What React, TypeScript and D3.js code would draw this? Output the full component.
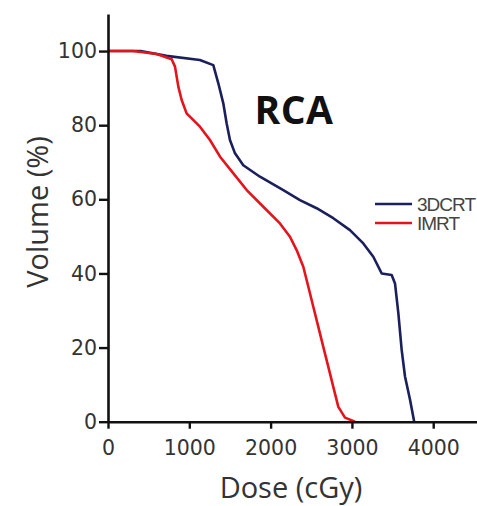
import React, { useEffect, useRef } from 'react';
import * as d3 from 'd3';

// dose (cGy) / volume (%)
const crtDose = [0, 400, 720, 1130, 1295, 1357, 1418, 1459, 1500, 1562, 1664, 1869, 2156, 2361, 2566, 2771, 2976, 3140, 3263, 3366, 3489, 3530, 3571, 3612, 3653, 3715, 3766];
const crtVolume = [100, 100, 98.7, 97.6, 96.2, 91.3, 85.9, 80.5, 76.0, 72.4, 69.2, 66.1, 62.5, 59.8, 57.6, 54.9, 51.7, 48.1, 44.5, 40.0, 39.6, 37.3, 29.3, 19.4, 12.2, 5.9, 0];

const imrtDose = [0, 307, 599, 783, 824, 865, 906, 967, 1131, 1254, 1378, 1542, 1706, 1910, 2115, 2238, 2320, 2402, 2464, 2525, 2587, 2648, 2710, 2771, 2833, 2915, 3038];
const imrtVolume = [100, 100, 99.2, 97.8, 95.8, 90.4, 86.8, 83.2, 79.6, 76.0, 71.5, 67.0, 62.5, 58.0, 53.5, 49.9, 46.3, 41.8, 36.4, 31.0, 25.6, 20.2, 14.8, 9.4, 4.0, 1.1, 0];

const xTicks = [0, 1000, 2000, 3000, 4000];
const yTicks = [0, 20, 40, 60, 80, 100];
const seriesNames = ['3DCRT', 'IMRT'];
const seriesColors = ['#1b1f5c', '#e3141c'];

export default function App() {
  const svgRef = useRef<SVGSVGElement>(null);

  useEffect(() => {
    const svg = d3.select(svgRef.current);
    svg.selectAll('*').remove();

    const x = d3.scaleLinear().domain([0, 4600]).range([108, 482]);
    const y = d3.scaleLinear().domain([0, 110]).range([421.7, 14]);

    const line = d3.line<[number, number]>().x(d => x(d[0])).y(d => y(d[1]));

    const series = [
      crtDose.map((d, i) => [d, crtVolume[i]] as [number, number]),
      imrtDose.map((d, i) => [d, imrtVolume[i]] as [number, number]),
    ];

    svg.selectAll('path.curve')
      .data(series)
      .enter()
      .append('path')
      .attr('class', 'curve')
      .attr('d', d => line(d))
      .attr('fill', 'none')
      .attr('stroke', (d, i) => seriesColors[i])
      .attr('stroke-width', 2.6)
      .attr('stroke-linejoin', 'round');

    const labelFont = '"Open Sans", sans-serif';
    const tickFont = '"DejaVu Sans", sans-serif';

    const gx = svg.append('g')
      .attr('transform', `translate(0,${y(0)})`)
      .call(d3.axisBottom(x).tickValues(xTicks).tickSize(7).tickSizeOuter(0).tickFormat(d3.format('d')));
    gx.select('.domain').attr('stroke', '#111').attr('stroke-width', 2.6);
    gx.selectAll('.tick line').attr('stroke', '#111').attr('stroke-width', 2.4);
    gx.selectAll('.tick text')
      .attr('y', 19)
      .attr('font-family', tickFont)
      .attr('font-size', 20.5)
      .attr('fill', '#333');

    const gy = svg.append('g')
      .attr('transform', `translate(${x(0)},0)`)
      .call(d3.axisLeft(y).tickValues(yTicks).tickSize(9).tickSizeOuter(0));
    gy.select('.domain').attr('stroke', '#111').attr('stroke-width', 2.6);
    gy.selectAll('.tick line').attr('stroke', '#111').attr('stroke-width', 2.4);
    gy.selectAll('.tick text')
      .attr('x', -11)
      .attr('font-family', tickFont)
      .attr('font-size', 20.5)
      .attr('fill', '#333');

    svg.append('text')
      .attr('x', 291)
      .attr('y', 498)
      .attr('text-anchor', 'middle')
      .attr('font-family', labelFont)
      .attr('font-size', 29)
      .attr('fill', '#333')
      .text('Dose (cGy)');

    svg.append('text')
      .attr('transform', 'translate(48,212) rotate(-90)')
      .attr('text-anchor', 'middle')
      .attr('font-family', labelFont)
      .attr('font-size', 29)
      .attr('fill', '#333')
      .text('Volume (%)');

    svg.append('text')
      .attr('x', 294)
      .attr('y', 124)
      .attr('text-anchor', 'middle')
      .attr('font-family', labelFont)
      .attr('font-weight', 'bold')
      .attr('font-size', 39)
      .attr('letter-spacing', 0.5)
      .attr('fill', '#111')
      .text('RCA');

    const legend = svg.append('g').attr('transform', 'translate(375,204)');
    seriesNames.forEach((name, i) => {
      const row = legend.append('g').attr('transform', `translate(0,${i * 19})`);
      row.append('line')
        .attr('x1', 0).attr('x2', 37)
        .attr('stroke', seriesColors[i])
        .attr('stroke-width', 2.6);
      row.append('text')
        .attr('x', 42)
        .attr('y', 7)
        .attr('font-family', '"Liberation Sans", Arial, sans-serif')
        .attr('font-size', 19)
        .attr('letter-spacing', -1)
        .attr('fill', '#444')
        .text(name);
    });
  }, []);

  return (
    <svg
      ref={svgRef}
      width={477}
      height={506}
      style={{ position: 'absolute', left: 0, top: 0, background: '#fff' }}
    />
  );
}
